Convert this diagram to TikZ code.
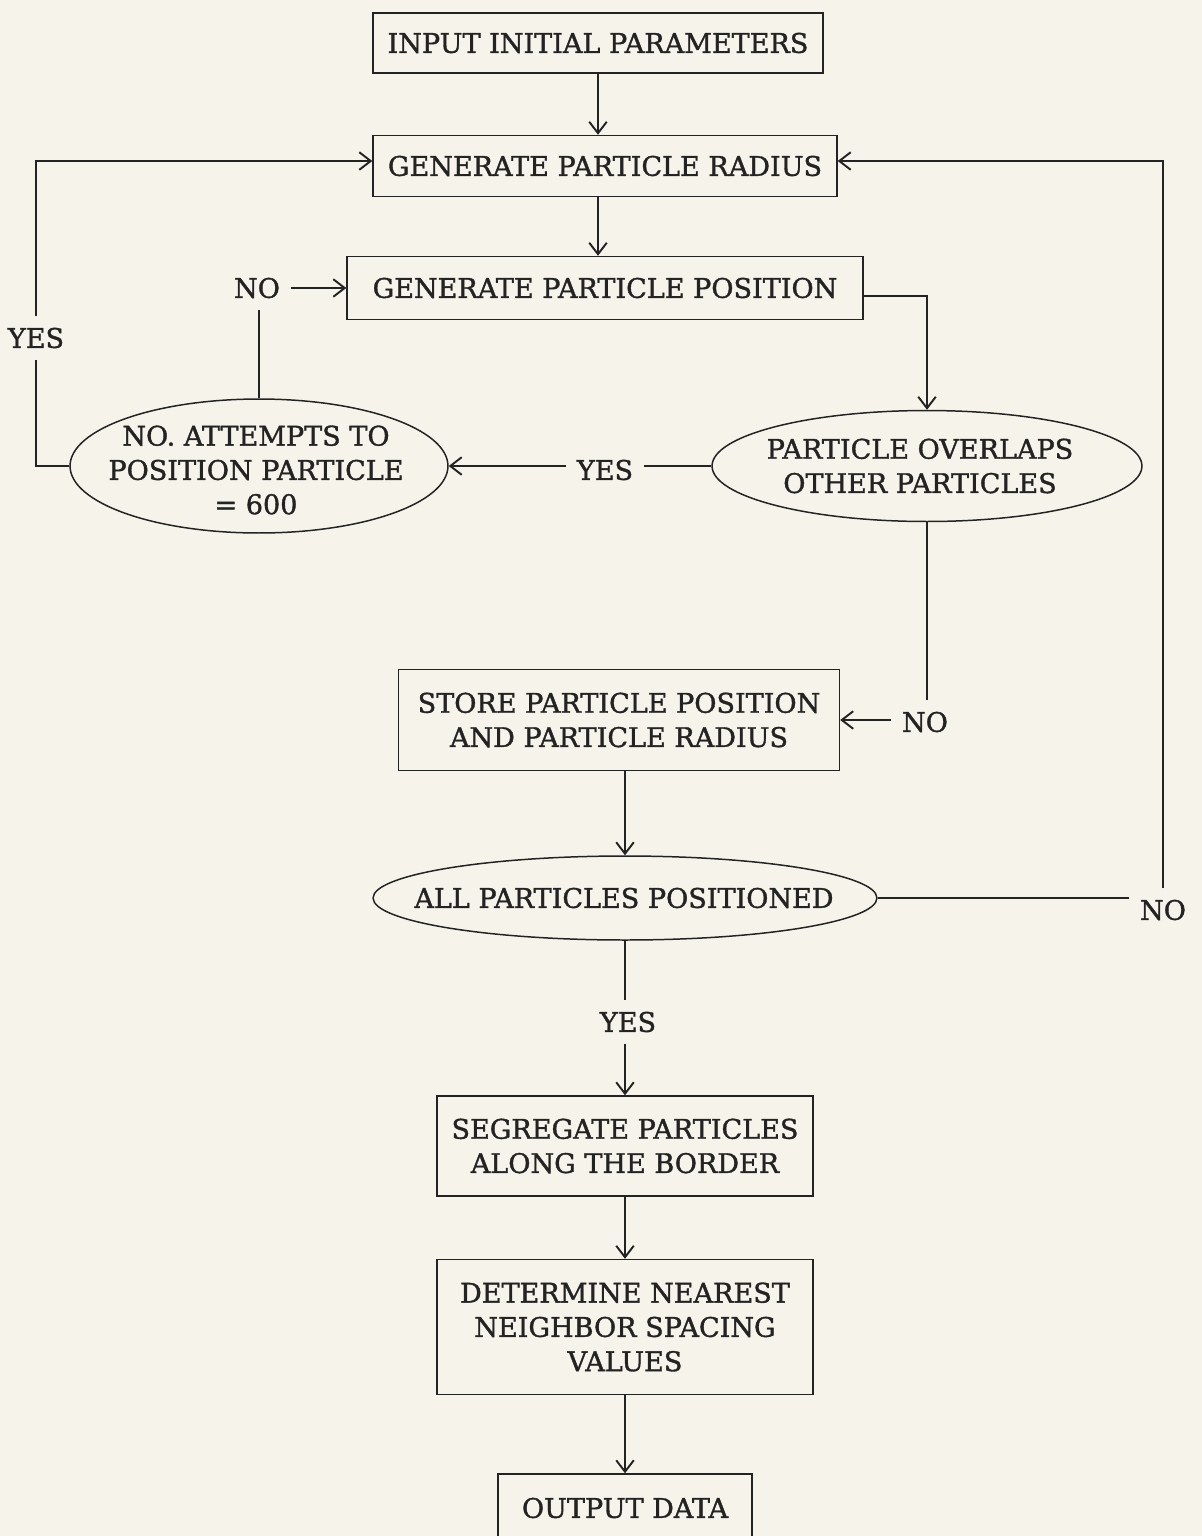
\documentclass[tikz,border=0pt]{standalone}
\usepackage{fontspec}
\setmainfont{DejaVu Serif}[FakeBold=1.3]
\usetikzlibrary{arrows.meta,shapes.geometric}
\definecolor{paper}{HTML}{F6F4EA}
\definecolor{ink}{HTML}{232323}
\begin{document}
\begin{tikzpicture}[x=0.02cm,y=-0.02cm,
  every node/.style={font=\fontsize{15.4}{19.5}\selectfont, text=ink},
  box/.style={draw=ink, line width=0.85pt, rectangle, align=center, inner sep=0pt},
  oval/.style={draw=ink, line width=0.85pt, ellipse, inner sep=0pt},
  otext/.style={align=center, inner sep=0pt},
  lbl/.style={inner sep=0.22cm},
  conn/.style={draw=ink, line width=0.85pt},
  arr/.style={conn, -{Straight Barb[length=6.5pt,width=10pt,line width=1.1pt]}}]
\useasboundingbox (0,0) rectangle (1202,1536);
\fill[paper] (0,0) rectangle (1202,1536);
\clip (0,0) rectangle (1202,1536);

% boxes
\node[box, minimum width=9cm, minimum height=1.2cm] (in) at (598,43) {INPUT INITIAL PARAMETERS};
\node[box, minimum width=9.28cm, minimum height=1.22cm] (rad) at (605,166) {GENERATE PARTICLE RADIUS};
\node[box, minimum width=10.32cm, minimum height=1.26cm] (pos) at (605,288) {GENERATE PARTICLE POSITION};
\node[oval, minimum width=7.56cm, minimum height=2.68cm] (att) at (259,466) {};
\node[otext] (attT) at (256,470) {NO. ATTEMPTS TO\\POSITION PARTICLE\\= 600};
\node[oval, minimum width=8.6cm, minimum height=2.22cm] (ovl) at (927,466) {};
\node[otext] (ovlT) at (920,466) {PARTICLE OVERLAPS\\OTHER PARTICLES};
\node[box, minimum width=8.82cm, minimum height=2.02cm] (sto) at (619,720) {STORE PARTICLE POSITION\\AND PARTICLE RADIUS};
\node[oval, minimum width=10.08cm, minimum height=1.68cm] (all) at (625,898) {};
\node[otext] (allT) at (624,898) {ALL PARTICLES POSITIONED};
\node[box, minimum width=7.52cm, minimum height=2cm] (seg) at (625,1146) {SEGREGATE PARTICLES\\ALONG THE BORDER};
\node[box, minimum width=7.52cm, minimum height=2.7cm] (det) at (625,1327) {DETERMINE NEAREST\\NEIGHBOR SPACING\\VALUES};
\node[box, minimum width=5.08cm, minimum height=1.36cm] (out) at (625,1508) {OUTPUT DATA};

% labels
\node[lbl] (yes1) at (605,470) {YES};
\node[lbl] (no1) at (257,288) {NO};
\node[lbl] (yes2) at (36,338) {YES};
\node[lbl] (no2) at (925,722) {NO};
\node[lbl] (no3) at (1163,910) {NO};
\node[lbl] (yes3) at (628,1022) {YES};

% connectors
\draw[arr] (in) -- (in |- rad.north);
\draw[arr] (in.south |- rad.south) -- (in.south |- pos.north);
\draw[arr] ([yshift=-0.16cm]pos.east) -| (ovl.north);
\draw[conn] (ovl.west) -- (ovl.west -| yes1.east);
\draw[arr] (att.east -| yes1.west) -- (att.east);
\draw[conn] (att.north) -- (att.north |- no1.south);
\draw[arr] (no1.east |- pos.west) -- (pos.west);
\draw[conn] (att.west) -| (yes2.south);
\draw[arr] (yes2.north) |- ([yshift=0.1cm]rad.west);
\draw[conn] (ovl.south) -- (ovl.south |- no2.north);
\draw[arr] (no2.west |- sto.east) -- (sto.east);
\draw[arr] (sto.south -| all.north) -- (all.north);
\draw[conn] (all.east) -- (all.east -| no3.west);
\draw[arr] (no3.north) |- ([yshift=0.1cm]rad.east);
\draw[conn] (all.south) -- (all.south |- yes3.north);
\draw[arr] (all.south |- yes3.south) -- (seg.north);
\draw[arr] (seg) -- (det);
\draw[arr] (det) -- (out);
\end{tikzpicture}
\end{document}
